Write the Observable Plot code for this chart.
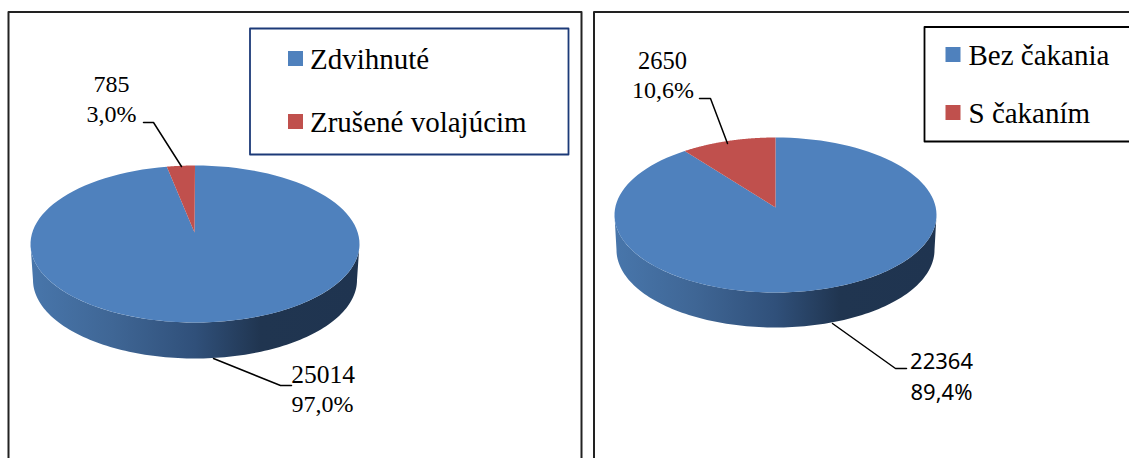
<!DOCTYPE html>
<html>
<head>
<meta charset="utf-8">
<style>html,body{margin:0;padding:0;background:#fff;overflow:hidden}svg{display:block}</style>
<script src="https://cdn.jsdelivr.net/npm/d3@7"></script>
<script src="https://cdn.jsdelivr.net/npm/@observablehq/plot@0.6"></script>
</head>
<body>
<div id="chart"></div>
<script>
// Data
const leftCategories = ["Zdvihnuté", "Zrušené volajúcim"];
const leftValues = [25014, 785];
const leftPercents = ["97,0%", "3,0%"];
const rightCategories = ["Bez čakania", "S čakaním"];
const rightValues = [22364, 2650];
const rightPercents = ["89,4%", "10,6%"];
const colors = ["#4f81bd", "#c0504d"];

// Layout of each pie in page pixels
const leftPie = {cx: 194.5, cy: 243.5, px: 194, py: 232, rx: 164.5, ry: 78.5, depth: 36, brx: 162};
const rightPie = {cx: 775, cy: 214.5, px: 775, py: 207, rx: 161, ry: 77.5, depth: 35, brx: 159};
const foreshorten = 0.9; // the tilted view narrows the back slice a little

const MAJOR = "major", MINOR = "minor";
const color = {type: "ordinal", domain: [MAJOR, MINOR], range: colors};

function ellipsePoint(p, deg, rx = p.rx, cy = p.cy) {
  const a = deg * Math.PI / 180;
  return {x: p.cx + rx * Math.sin(a), y: cy - p.ry * Math.cos(a)};
}
function slicePolygons(p, values, id) {
  const total = d3.sum(values);
  const start = 360 - foreshorten * (values[1] / total) * 360;
  const arc = (a, b) => d3.range(0, 121).map((i) => ellipsePoint(p, a + (b - a) * i / 120));
  return [
    [{x: p.px, y: p.py}, ...arc(0, start)].map((d) => ({...d, key: id + "-0", cat: MAJOR})),
    [{x: p.px, y: p.py}, ...arc(start, 360)].map((d) => ({...d, key: id + "-1", cat: MINOR}))
  ].flat();
}
function sidePolygon(p) {
  const top = d3.range(0, 121).map((i) => ellipsePoint(p, 90 + i * 1.5));
  const bottom = d3.range(0, 121).map((i) => ellipsePoint(p, 270 - i * 1.5, p.brx, p.cy + p.depth));
  return [...top, ...bottom];
}

function gradientDefs() {
  const svgNS = "http://www.w3.org/2000/svg";
  const defs = document.createElementNS(svgNS, "defs");
  const g = document.createElementNS(svgNS, "linearGradient");
  g.setAttribute("id", "sideShade");
  g.setAttribute("x1", "0"); g.setAttribute("x2", "1");
  g.setAttribute("y1", "0"); g.setAttribute("y2", "0");
  [["0", "#4876ab"], ["0.25", "#3f6695"], ["0.5", "#30507a"], ["0.7", "#203550"], ["1", "#1f3450"]].forEach(([o, c]) => {
    const s = document.createElementNS(svgNS, "stop");
    s.setAttribute("offset", o); s.setAttribute("stop-color", c);
    g.appendChild(s);
  });
  defs.appendChild(g);
  return defs;
}

const serif = "'Liberation Serif', 'Times New Roman', serif";
const sans = "'Noto Sans', sans-serif";
const labelRows = [
  {x: 111, y: 91.5, t: String(leftValues[1]), s: 24},
  {x: 111, y: 121.5, t: leftPercents[1], s: 24},
  {x: 322.5, y: 382.5, t: String(leftValues[0]), s: 25.5},
  {x: 322, y: 411.5, t: leftPercents[0], s: 24},
  {x: 662, y: 68, t: String(rightValues[1]), s: 24.5},
  {x: 662.5, y: 97, t: rightPercents[1], s: 24}
];
const sansRows = [
  {x: 941, y: 368, t: String(rightValues[0])},
  {x: 941, y: 399, t: rightPercents[0]}
];
const legendRows = [
  {x: 309.5, y: 68, t: leftCategories[0], sy: 51, sx: 288, cat: MAJOR},
  {x: 309.5, y: 131, t: leftCategories[1], sy: 114, sx: 288, cat: MINOR},
  {x: 968, y: 64, t: rightCategories[0], sy: 47, sx: 945.5, cat: MAJOR},
  {x: 968, y: 122, t: rightCategories[1], sy: 105, sx: 945.5, cat: MINOR}
];
const leaders = [
  [[143, 122], [153, 122], [181, 166]],
  [[213, 358], [280, 385], [291, 385]],
  [[699, 98], [710, 98], [727, 143]],
  [[832, 323], [895, 368], [906, 368]]
];
const path = (pts, m = {}) => Plot.line(pts, {x: "0", y: "1", stroke: "#000", strokeWidth: 1.5, ...m});

const chart = Plot.plot({
  width: 1129, height: 458,
  margin: 0,
  x: {domain: [0, 1129], range: [0, 1129], axis: null},
  y: {domain: [0, 458], range: [0, 458], axis: null},
  color,
  style: {background: "#fff"},
  marks: [
    gradientDefs,
    path([[8, 460], [8, 11.5], [581, 11.5], [581, 460]], {stroke: "#222", strokeWidth: 2}),
    path([[593.5, 460], [593.5, 11.5], [1131, 11.5]], {stroke: "#222", strokeWidth: 2}),
    path([[249.5, 154], [249.5, 28], [568, 28], [568, 154], [249.5, 154]], {stroke: "#1c3a78", strokeWidth: 1.8}),
    path([[1131, 141], [924, 141], [924, 26.5], [1131, 26.5]], {strokeWidth: 1.8}),
    ...[leftPie, rightPie].map((p) => Plot.line(sidePolygon(p), {x: "x", y: "y", fill: "url(#sideShade)", stroke: "none"})),
    Plot.line(slicePolygons(leftPie, leftValues, "L"), {x: "x", y: "y", z: "key", fill: "cat", stroke: "none"}),
    Plot.line(slicePolygons(rightPie, rightValues, "R"), {x: "x", y: "y", z: "key", fill: "cat", stroke: "none"}),
    ...leaders.map((l) => path(l)),
    Plot.rect(legendRows, {x1: "sx", x2: (d) => d.sx + 15, y1: "sy", y2: (d) => d.sy + 15, fill: "cat"}),
    Plot.text(legendRows, {x: "x", y: "y", text: "t", textAnchor: "start", lineAnchor: "bottom", fontFamily: serif, fontSize: 29, fill: "#000"}),
    ...labelRows.map((r) => Plot.text([r], {x: "x", y: "y", text: "t", lineAnchor: "bottom", fontFamily: serif, fontSize: r.s, fill: "#000"})),
    Plot.text(sansRows, {x: "x", y: "y", text: "t", lineAnchor: "bottom", fontFamily: sans, fontSize: 22, fill: "#000"})
  ]
});
document.getElementById("chart").appendChild(chart);
</script>
</body>
</html>
